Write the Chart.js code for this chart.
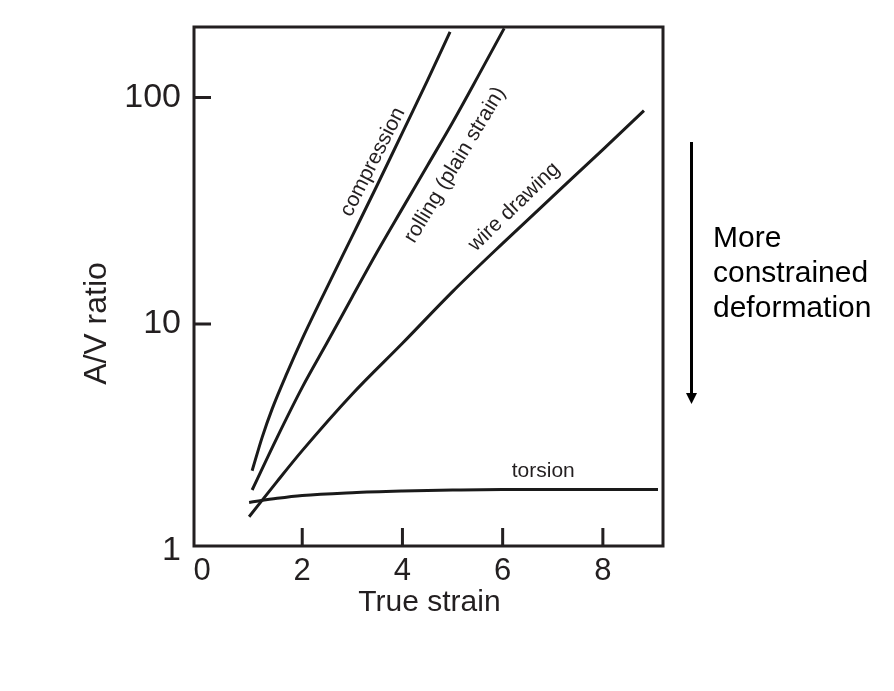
<!DOCTYPE html>
<html>
<head>
<meta charset="utf-8">
<title>A/V ratio vs true strain</title>
<script src="https://cdn.jsdelivr.net/npm/chart.js@4.4.1/dist/chart.umd.min.js"></script>
<style>
    html, body { margin: 0; padding: 0; background: #fff; }
    #wrap { width: 894px; height: 691px; position: relative; }
</style>
</head>
<body>
<div id="wrap"><canvas id="avChart"></canvas></div>
<script>
// values (x = true strain, y = A/V ratio, log axis)
const compressionStrain = [1.0, 1.2, 1.4, 1.7, 2.0, 2.5, 3.0, 3.5, 4.0, 4.5, 4.95];
const compressionRatio = [2.25, 3.16, 4.22, 6.1, 8.6, 14.6, 24.5, 41.2, 70.0, 119, 195];

const rollingStrain = [1.0, 1.5, 2.0, 2.5, 3.0, 3.5, 4.0, 4.5, 5.0, 5.5, 6.03];
const rollingRatio = [1.85, 3.16, 5.25, 8.3, 13.2, 20.9, 32.4, 50.1, 77.6, 123, 202];

const wireStrain = [0.94, 1.5, 2.0, 3.0, 4.0, 5.0, 6.0, 7.0, 8.0, 8.82];
const wireRatio = [1.41, 2.02, 2.76, 4.91, 8.22, 13.9, 22.7, 36.6, 58.9, 87.5];

const torsionStrain = [0.94, 1.5, 2.0, 3.0, 4.0, 5.0, 6.0, 7.5, 9.1];
const torsionRatio = [1.63, 1.70, 1.75, 1.80, 1.83, 1.85, 1.86, 1.86, 1.86];

const xTicks = [0, 2, 4, 6, 8];
const yTicks = [1, 10, 100];
const xTickMarks = [2, 4, 6, 8];
const yTickMarks = [10, 100];

const curveNames = ['compression', 'rolling (plain strain)', 'wire drawing', 'torsion'];
const labelStrain = [3.41, 5.05, 6.23, 6.81];
const labelRatio = [51.9, 50.4, 32.9, 2.24];
const labelAngle = [-63, -59, -44, 0];

const sideNote = ['More', 'constrained', 'deformation'];

const ink = '#231f20';
const fontFamily = '"Liberation Sans", Arial, Helvetica, sans-serif';

function toPoints(xs, ys) {
    return xs.map((x, i) => ({ x: x, y: ys[i] }));
}

function curve(xs, ys) {
    return {
        data: toPoints(xs, ys),
        showLine: true,
        borderColor: '#1a1a1a',
        borderWidth: 3,
        pointRadius: 0,
        pointHoverRadius: 0,
        cubicInterpolationMode: 'monotone',
        fill: false
    };
}

// frame, inward ticks, axis titles, curve labels and the arrow note
const figureDecor = {
    id: 'figureDecor',
    afterDraw(chart) {
        const ctx = chart.ctx;
        const a = chart.chartArea;
        const xs = chart.scales.x;
        const ys = chart.scales.y;
        ctx.save();

        ctx.strokeStyle = ink;
        ctx.lineWidth = 3;
        ctx.strokeRect(a.left, a.top, a.right - a.left, a.bottom - a.top);

        ctx.beginPath();
        xTickMarks.forEach(v => {
            const px = xs.getPixelForValue(v);
            ctx.moveTo(px, a.bottom);
            ctx.lineTo(px, a.bottom - 18);
        });
        yTickMarks.forEach(v => {
            const py = ys.getPixelForValue(v);
            ctx.moveTo(a.left, py);
            ctx.lineTo(a.left + 17, py);
        });
        ctx.stroke();

        ctx.fillStyle = ink;
        ctx.textAlign = 'center';
        ctx.textBaseline = 'middle';
        ctx.font = '21px ' + fontFamily;
        curveNames.forEach((name, i) => {
            ctx.save();
            ctx.translate(xs.getPixelForValue(labelStrain[i]), ys.getPixelForValue(labelRatio[i]));
            ctx.rotate(labelAngle[i] * Math.PI / 180);
            ctx.fillText(name, 0, 0);
            ctx.restore();
        });

        // axis titles
        ctx.font = '30px ' + fontFamily;
        ctx.textBaseline = 'alphabetic';
        ctx.fillText('True strain', (a.left + a.right) / 2 + 1, a.bottom + 65);

        ctx.save();
        ctx.translate(a.left - 88, (a.top + a.bottom) / 2 + 37);
        ctx.rotate(-Math.PI / 2);
        ctx.font = '32px ' + fontFamily;
        ctx.textBaseline = 'alphabetic';
        ctx.fillText('A/V ratio', 0, 0);
        ctx.restore();

        // arrow with note
        const ax = a.right + 28.5;
        const aTop = a.top + 115;
        const aTip = a.top + 377;
        ctx.strokeStyle = '#000';
        ctx.fillStyle = '#000';
        ctx.lineWidth = 3;
        ctx.beginPath();
        ctx.moveTo(ax, aTop);
        ctx.lineTo(ax, aTip - 8);
        ctx.stroke();
        ctx.beginPath();
        ctx.moveTo(ax - 5.5, aTip - 11);
        ctx.lineTo(ax + 5.5, aTip - 11);
        ctx.lineTo(ax, aTip);
        ctx.closePath();
        ctx.fill();

        ctx.font = '30px ' + fontFamily;
        ctx.textAlign = 'left';
        ctx.textBaseline = 'alphabetic';
        sideNote.forEach((line, i) => {
            ctx.fillText(line, a.right + 50, a.top + 220 + i * 35);
        });

        ctx.restore();
    }
};

const config = {
    type: 'scatter',
    data: {
        datasets: [
            curve(compressionStrain, compressionRatio),
            curve(rollingStrain, rollingRatio),
            curve(wireStrain, wireRatio),
            curve(torsionStrain, torsionRatio)
        ]
    },
    options: {
        responsive: true,
        maintainAspectRatio: false,
        animation: false,
        layout: {
            padding: { top: 27, right: 231, bottom: 0, left: 0 }
        },
        plugins: {
            legend: { display: false },
            tooltip: { enabled: false }
        },
        scales: {
            x: {
                type: 'linear',
                min: -0.16,
                max: 9.2,
                afterBuildTicks: scale => { scale.ticks = xTicks.map(v => ({ value: v })); },
                afterFit: scale => {
                    scale.height = 145;
                    scale.paddingLeft = 0;
                    scale.paddingRight = 0;
                },
                grid: { display: false, drawTicks: false },
                border: { display: false },
                ticks: {
                    autoSkip: false,
                    maxRotation: 0,
                    padding: 7,
                    color: ink,
                    font: { family: fontFamily, size: 31 }
                }
            },
            y: {
                type: 'logarithmic',
                min: 1.047,
                max: 204.8,
                afterBuildTicks: scale => { scale.ticks = yTicks.map(v => ({ value: v })); },
                afterFit: scale => {
                    scale.width = 194;
                    scale.paddingTop = 0;
                    scale.paddingBottom = 0;
                },
                grid: { display: false, drawTicks: false },
                border: { display: false },
                ticks: {
                    autoSkip: false,
                    padding: 13,
                    color: ink,
                    font: { family: fontFamily, size: 34 },
                    callback: value => String(value)
                }
            }
        }
    },
    plugins: [figureDecor]
};

const canvas = document.getElementById('avChart');
const ctx = canvas.getContext('2d');
new Chart(ctx, config);
</script>
</body>
</html>
